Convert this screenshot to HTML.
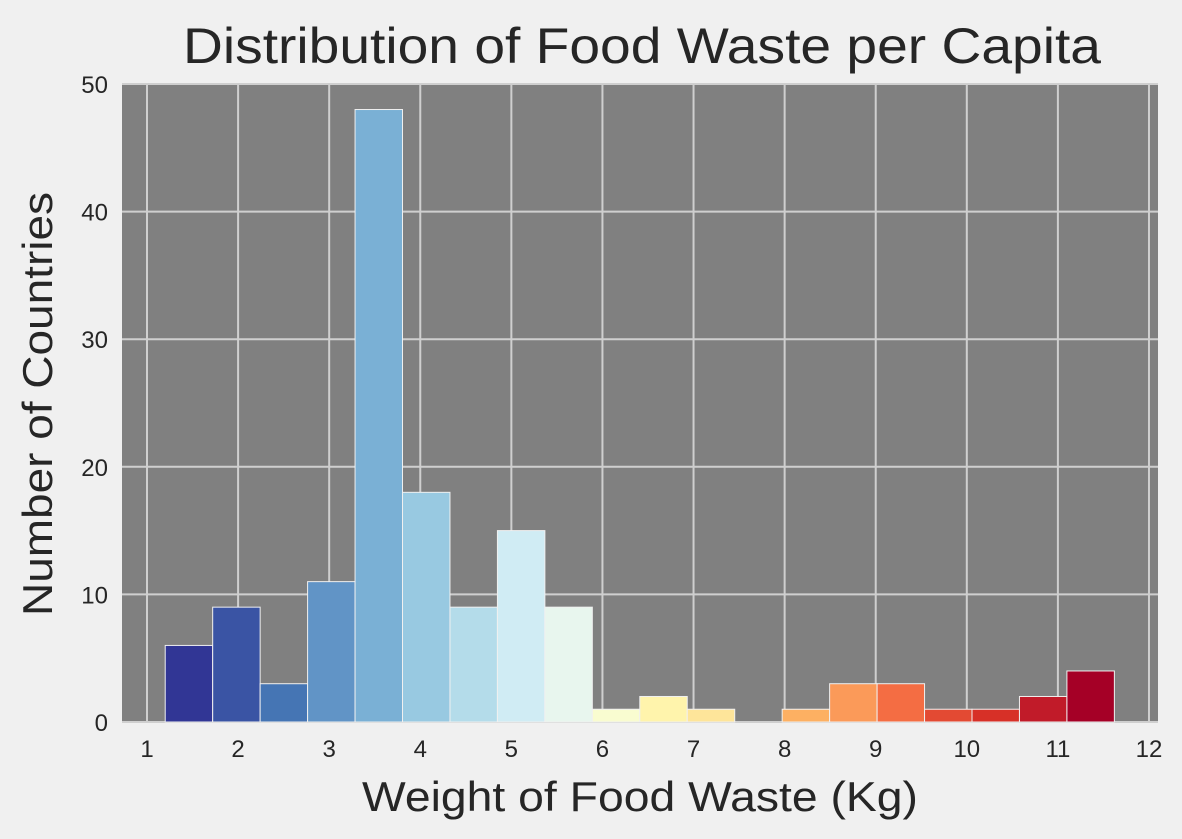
<!DOCTYPE html>
<html><head><meta charset="utf-8"><style>
html,body{margin:0;padding:0;background:#f0f0f0;}
svg{display:block;font-family:"Liberation Sans",Arial,sans-serif;}
</style></head><body>
<svg id="chart" width="1182" height="839">
<rect x="0" y="0" width="1182" height="839" fill="#f0f0f0"/>
<rect x="122" y="83" width="1036" height="639" fill="#808080"/>
<g id="grid"></g><g id="bars"></g><g id="ticks"></g>
<text x="642" y="63" text-anchor="middle" font-size="50" textLength="918" lengthAdjust="spacingAndGlyphs" fill="#262626">Distribution of Food Waste per Capita</text>
<text x="640" y="811" text-anchor="middle" font-size="42" textLength="556" lengthAdjust="spacingAndGlyphs" fill="#262626">Weight of Food Waste (Kg)</text>
<text transform="translate(52,404) rotate(-90)" text-anchor="middle" font-size="42" textLength="424" lengthAdjust="spacingAndGlyphs" fill="#262626">Number of Countries</text>
</svg>
<script>
const binStart = 1.2;
const binWidth = 0.521;
const counts = [6,9,3,11,48,18,9,15,9,1,2,1,0,1,3,3,1,1,2,4];
const colors = ["#313695","#3a54a4","#4575b4","#6194c6","#7ab0d5","#98c9e1","#b4dcea","#d0ecf4","#e8f6ee","#f9fcd0","#fff4ac","#fee59a","#fec87c","#fdb062","#fb9a59","#f46d43","#e34a33","#d73027","#c11b29","#a50026"];
const xTicks = [1,2,3,4,5,6,7,8,9,10,11,12];
const yTicks = [0,10,20,30,40,50];
const NS="http://www.w3.org/2000/svg";
function xs(v){return 147+(v-1)*91.09;}
function ys(v){return 722-v*12.76;}
const grid=document.getElementById('grid'),bars=document.getElementById('bars'),ticks=document.getElementById('ticks');
function mk(tag,attrs,parent){const e=document.createElementNS(NS,tag);for(const k in attrs)e.setAttribute(k,attrs[k]);parent.appendChild(e);return e;}
xTicks.forEach(t=>{
 const l=mk('line',{x1:xs(t),x2:xs(t),y1:83,y2:722,stroke:'#cfcfcf','stroke-width':2},grid);
 
 
 const tx=mk('text',{x:xs(t),y:757,'text-anchor':'middle','font-size':24,fill:'#262626'},ticks);
 tx.textContent=t;
 
 
});
yTicks.forEach(t=>{
 const l=mk('line',{x1:122,x2:1158,y1:ys(t),y2:ys(t),stroke:'#cfcfcf','stroke-width':2},grid);
 
 
 const tx=mk('text',{x:108,y:ys(t)+9,'text-anchor':'end','font-size':24,fill:'#262626'},ticks);
 tx.textContent=t;
 
 
});
counts.forEach((c,i)=>{
 if(c<=0)return;
 const x0=xs(binStart+i*binWidth),x1=xs(binStart+(i+1)*binWidth);
 const r=mk('rect',{x:x0,y:ys(c),width:x1-x0,height:ys(0)-ys(c),fill:colors[i],stroke:'#f0f0f0','stroke-width':1},bars);
 
 
});
</script>
</body></html>
